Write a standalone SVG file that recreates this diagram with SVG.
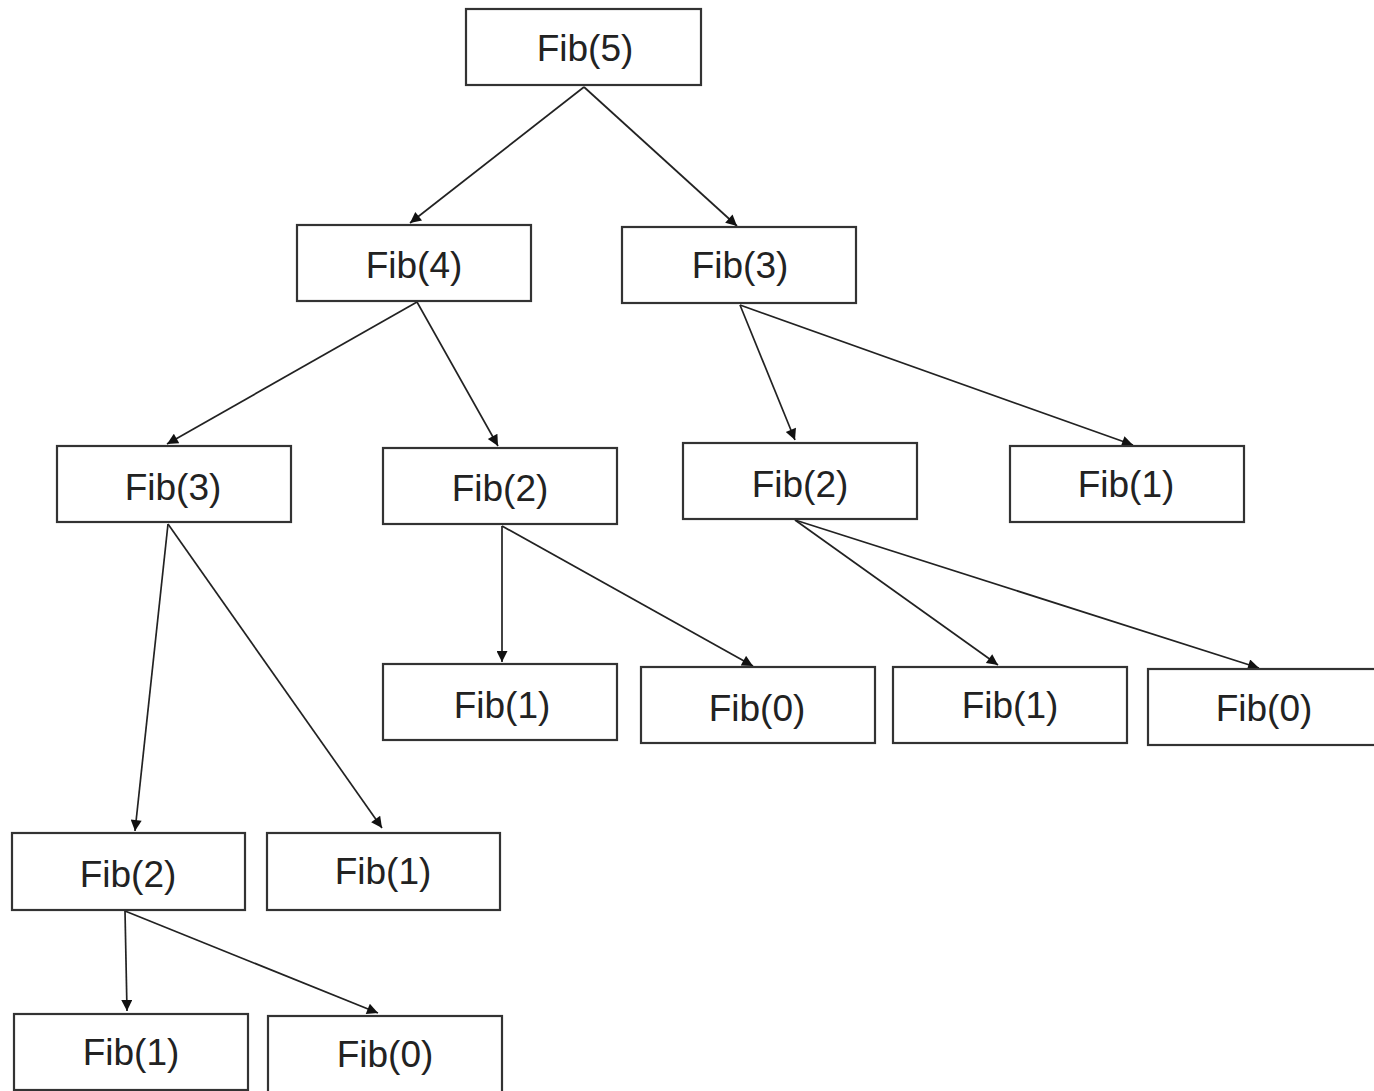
<svg xmlns="http://www.w3.org/2000/svg" width="1374" height="1091" viewBox="0 0 1374 1091">
<defs>
<marker id="arr" viewBox="0 0 10 10" refX="10" refY="5" markerWidth="14" markerHeight="11" markerUnits="userSpaceOnUse" orient="auto">
<path d="M0,0 L10,5 L0,10 z" fill="#111"/>
</marker>
<style>
.box{fill:#fff;stroke:#333;stroke-width:2.2}
.lbl{font-family:"Liberation Sans",Arial,sans-serif;font-size:37px;fill:#222;text-anchor:middle}
.edge{stroke:#222;stroke-width:1.7;fill:none;marker-end:url(#arr)}
</style>
</defs>
<rect width="1374" height="1091" fill="#fff"/>
<g id="connectors">
<line class="edge" x1="584" y1="87" x2="410" y2="223"/>
<line class="edge" x1="584" y1="87" x2="737" y2="226"/>
<line class="edge" x1="417" y1="302" x2="167" y2="444"/>
<line class="edge" x1="417" y1="302" x2="498" y2="446"/>
<line class="edge" x1="740" y1="305" x2="795" y2="440"/>
<line class="edge" x1="740" y1="305" x2="1133" y2="445"/>
<line class="edge" x1="168" y1="524" x2="135" y2="831"/>
<line class="edge" x1="168" y1="524" x2="382" y2="828"/>
<line class="edge" x1="502" y1="526" x2="502" y2="662"/>
<line class="edge" x1="502" y1="526" x2="753" y2="666"/>
<line class="edge" x1="795" y1="520" x2="998" y2="665"/>
<line class="edge" x1="795" y1="520" x2="1259" y2="668"/>
<line class="edge" x1="125" y1="911" x2="127" y2="1011"/>
<line class="edge" x1="125" y1="911" x2="378" y2="1013"/>
</g>
<g id="n_fib5"><rect class="box" x="466" y="9" width="235" height="76"/><text class="lbl" x="585" y="61">Fib(5)</text></g>
<g id="n_fib4"><rect class="box" x="297" y="225" width="234" height="76"/><text class="lbl" x="414" y="278">Fib(4)</text></g>
<g id="n_fib3a"><rect class="box" x="622" y="227" width="234" height="76"/><text class="lbl" x="740" y="278">Fib(3)</text></g>
<g id="n_fib3b"><rect class="box" x="57" y="446" width="234" height="76"/><text class="lbl" x="173" y="500">Fib(3)</text></g>
<g id="n_fib2a"><rect class="box" x="383" y="448" width="234" height="76"/><text class="lbl" x="500" y="501">Fib(2)</text></g>
<g id="n_fib2b"><rect class="box" x="683" y="443" width="234" height="76"/><text class="lbl" x="800" y="497">Fib(2)</text></g>
<g id="n_fib1a"><rect class="box" x="1010" y="446" width="234" height="76"/><text class="lbl" x="1126" y="497">Fib(1)</text></g>
<g id="n_fib1b"><rect class="box" x="383" y="664" width="234" height="76"/><text class="lbl" x="502" y="718">Fib(1)</text></g>
<g id="n_fib0a"><rect class="box" x="641" y="667" width="234" height="76"/><text class="lbl" x="757" y="721">Fib(0)</text></g>
<g id="n_fib1c"><rect class="box" x="893" y="667" width="234" height="76"/><text class="lbl" x="1010" y="718">Fib(1)</text></g>
<g id="n_fib0b"><rect class="box" x="1148" y="669" width="236" height="76"/><text class="lbl" x="1264" y="721">Fib(0)</text></g>
<g id="n_fib2c"><rect class="box" x="12" y="833" width="233" height="77"/><text class="lbl" x="128" y="887">Fib(2)</text></g>
<g id="n_fib1d"><rect class="box" x="267" y="833" width="233" height="77"/><text class="lbl" x="383" y="884">Fib(1)</text></g>
<g id="n_fib1e"><rect class="box" x="14" y="1014" width="234" height="76"/><text class="lbl" x="131" y="1065">Fib(1)</text></g>
<g id="n_fib0c"><rect class="box" x="268" y="1016" width="234" height="80"/><text class="lbl" x="385" y="1067">Fib(0)</text></g>
</svg>
